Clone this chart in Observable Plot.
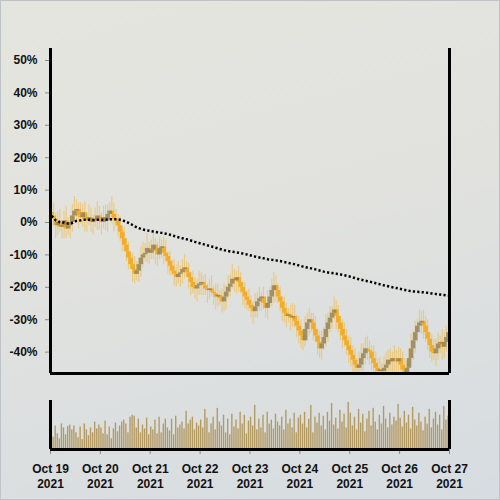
<!DOCTYPE html>
<html><head><meta charset="utf-8">
<script src="https://cdn.jsdelivr.net/npm/d3@7"></script>
<script src="https://cdn.jsdelivr.net/npm/@observablehq/plot@0.6"></script>
<style>
html,body{margin:0;padding:0;}
#chart{width:500px;height:500px;position:relative;overflow:hidden;
background:linear-gradient(165deg,#e5e5df 0%,#e1e2de 45%,#d6dce1 100%);
box-shadow: inset 0 0 0 1px #bfc3c7;}
#chart svg{display:block;}
</style></head><body><div id="chart"></div>
<script>
const startDate = "2021-10-19T00:00:00Z";
const dayTicks = ["2021-10-19","2021-10-20","2021-10-21","2021-10-22","2021-10-23","2021-10-24","2021-10-25","2021-10-26","2021-10-27"];
const yTicks = [-40,-30,-20,-10,0,10,20,30,40,50];
const firstOpen = 3;
// hourly closing change (%)
const close = [
 2,1,-1,0,-1.5,-1,0.5,-2,-1,0,2,3.5,4,2,1.5,3,1,0.5,1.5,0,1,0.5,2,1,
 0,1.5,0.5,2.5,3.5,2.5,1,0.5,-1,-3,-5,-7,-9,-11,-13,-14.5,-16,-15,-13,-11,-10,-9.5,-8,-9.5,
 -8.5,-7,-9,-10,-8,-7.5,-9.5,-10.5,-12,-13.5,-15,-16,-17,-16,-15.5,-14.5,-14,-15.5,-17,-18.5,-20,-20.5,-19.5,-19,
 -18.5,-19.5,-20.5,-21,-20.5,-21.5,-22,-23,-22.5,-23.5,-24.5,-23,-21.5,-20,-19,-17.5,-18,-17,-18.5,-20,-21.5,-23,-24,-25.5,
 -26.5,-27.5,-26,-24.5,-23.5,-23,-25,-26.5,-25,-23,-21,-19.5,-21,-23,-24.5,-26.5,-28,-29,-28.5,-29.5,-29,-30.5,-32,-33.5,
 -35,-36.5,-33,-31,-30,-31,-33,-35,-37,-39,-37.5,-35.5,-33,-31,-29.5,-28,-27,-29,-31,-33,-35,-36.5,-38,-39.5,
 -41,-42.5,-44,-45,-44,-42,-40.5,-39,-39.5,-40,-42,-43.5,-45,-46,-45.5,-46,-45,-44,-42.5,-43,-42,-42.5,-43,-42,
 -44,-45.5,-47,-45,-42,-39,-36.5,-34,-32,-31,-30.5,-32,-34,-36,-38,-40,-40.5,-39,-37.5,-37,-38.5,-37,-35.5,-34
];
const wickHi = [
 3,4,2,3.5,4,1.5,3,4.5,2.5,2,3.5,4.5,3,2,4,2.5,3.5,2,4,3,1.5,3.5,4.5,3,
 2,3.5,4,3,2.5,4.5,3.5,3,2,3,1.5,3.5,2,3,1.5,3.5,4,3,2,3.5,4,3,4.5,2,
 3,4,2,3,3.5,2,3,4,1.5,3,2,3.5,3,4,2,3,4,2,3,1.5,3.5,3,2,4,
 3,2,3.5,1.5,3,4,2,3,3.5,1.5,3,4,2,3.5,3,4.5,3,2,3.5,3,1.5,3,2,3.5,
 3,2,4,3,3.5,1.5,3,2,4,3,3.5,4,3,2,3,1.5,3.5,3,2,3,4,3.5,2,3,
 3.5,2,4,3,3.5,2,3,4,2,3.5,4,3,4.5,3,3.5,2,4,3,3.5,2,3,4,3.5,3,
 4,3,3.5,2,4,4.5,3,3.5,4,3,2,4,3.5,3,4,2,3.5,4,3,3.5,2,4,3,3.5,
 3,4,3.5,2,3,4.5,3,3.5,2,4,3,3.5,3,4,2,3.5,4,3,3.5,2,4,3,3.5,4
];
const wickLo = [
 3.5,2,4,3,1.5,3.5,4,3,2,4,3,1.5,3.5,4,2,3,4,3.5,1.5,3,4,2,3,3.5,
 4,2,3,3.5,1.5,3,4,2,3.5,3,4,2,3,3.5,1.5,4,3,2,3.5,4,3,2,3,3.5,
 2,3,4,3.5,1.5,3,3.5,2,4,3,1.5,3.5,3,2,4,3.5,3,1.5,3.5,4,2,3,4,3,
 3.5,3,2,4,3,1.5,3.5,4,3,2,3.5,3,4,2,3,1.5,3.5,4,3,2,4,3.5,3,2,
 3,4,2,3.5,3,4,2,3,3.5,1.5,3,4,3.5,2,3,4,3,3.5,2,4,3,2,3.5,4,
 4,3,2,3.5,4,3,3.5,2,4,3,3.5,2,3,4,3,3.5,2,4,3,3.5,4,2,3,4,
 3.5,4,3,4.5,3,2,4,3.5,3,4,3.5,3,4,3.5,3,4,2,3.5,4,3,3.5,4,3,3.5,
 4,3,3.5,4,3,2,3.5,4,3,2,3.5,4,3,3.5,4,3,2,4,3.5,3,4,3.5,3,2
];
const volume = [
 38,25,48,32,22,52,44,30,47,50,40,48,34,24,46,20,52,40,28,44,34,56,42,50,
 44,32,58,30,46,22,42,54,36,48,56,60,52,34,66,70,68,44,62,34,50,42,64,30,
 46,40,60,32,66,34,52,62,44,38,62,30,68,44,50,56,42,78,52,60,66,40,54,48,
 60,44,82,64,34,52,66,40,84,56,48,70,34,62,30,72,46,60,42,76,52,70,32,58,
 66,48,90,40,62,44,70,34,76,52,60,42,72,56,48,66,40,80,52,62,44,74,34,64,
 70,52,76,44,62,90,34,66,54,74,48,68,40,76,58,94,50,64,42,80,56,72,44,96,
 74,48,66,40,82,54,72,36,62,78,48,84,56,40,70,52,88,62,44,74,50,66,58,92,
 64,46,78,54,70,42,86,60,48,74,56,38,66,52,82,44,62,76,50,70,40,88,60,68
];

const upColor = "#8f7f57", downColor = "#f4a71c", wickColor = "#f2bb4a", volColor = "#b39a63";
const H = 3600e3;
const t0 = new Date(startDate);
const cum = d3.cumsum(close);
const rows = close.map((c, i) => {
  const o = i ? close[i - 1] : firstOpen;
  return {
    t: new Date(+t0 + i * H), t2: new Date(+t0 + (i + 1) * H), mid: new Date(+t0 + (i + 0.5) * H),
    open: o, close: c, high: Math.max(o, c) + wickHi[i], low: Math.min(o, c) - wickLo[i],
    up: c >= o, volume: volume[i], ma: cum[i] / (i + 1)
  };
});
const tickDates = dayTicks.map(d => new Date(d + "T00:00:00Z"));
const xDomain = [tickDates[0], tickDates[tickDates.length - 1]];
const yDomain = [-46.6, 53.7];
const fmt = d => `${d3.utcFormat("%b")(d)} ${d.getUTCDate()}\n${d.getUTCFullYear()}`;
const style = {background: "transparent", fontFamily: "'Liberation Sans', Arial, Helvetica, sans-serif", fontSize: "12px", fontWeight: "bold", color: "#111"};

const main = Plot.plot({
  width: 500, height: 385, marginTop: 48, marginBottom: 12, marginLeft: 50, marginRight: 51,
  style,
  x: {type: "utc", domain: xDomain, axis: null},
  y: {domain: yDomain, axis: null},
  marks: [
    Plot.axisY({ticks: yTicks, tickFormat: d => d + "%", tickSize: 5, tickPadding: 8, stroke: "#8a8a8a", fill: "#111"}),
    Plot.ruleX(rows, {x: "mid", y1: "low", y2: "high", stroke: wickColor, strokeOpacity: 0.6, strokeWidth: 1.2, clip: true}),
    Plot.ruleX(rows, {filter: d => !d.up, x: "mid", y1: "open", y2: "close", stroke: downColor, strokeOpacity: 0.9, strokeWidth: 4.5, clip: true}),
    Plot.ruleX(rows, {filter: d => d.up, x: "mid", y1: "open", y2: "close", stroke: upColor, strokeOpacity: 0.8, strokeWidth: 4.5, clip: true}),
    Plot.lineY(rows, {x: "mid", y: "ma", stroke: "#000", strokeWidth: 2.5, strokeDasharray: "2.2,2.2", strokeLinecap: "butt"}),
    Plot.ruleX(xDomain, {stroke: "#000", strokeWidth: 3}),
    Plot.ruleY([yDomain[0]], {stroke: "#000", strokeWidth: 3})
  ]
});

const vol = Plot.plot({
  width: 500, height: 115, marginTop: 15, marginBottom: 51, marginLeft: 50, marginRight: 51,
  style,
  x: {type: "utc", domain: xDomain, axis: null},
  y: {domain: [0, 100], axis: null},
  marks: [
    Plot.rectY(rows, {x1: "t", x2: "t2", y: "volume", fill: volColor, insetLeft: 0.35, insetRight: 0.35}),
    Plot.axisX({ticks: tickDates, tickFormat: fmt, tickSize: 5, tickPadding: 8, stroke: "#8a8a8a", fill: "#111", lineHeight: 1.25}),
    Plot.ruleX(xDomain, {stroke: "#000", strokeWidth: 3}),
    Plot.ruleY([0], {stroke: "#000", strokeWidth: 3})
  ]
});

const el = document.getElementById("chart");
el.appendChild(main);
el.appendChild(vol);
</script></body></html>
